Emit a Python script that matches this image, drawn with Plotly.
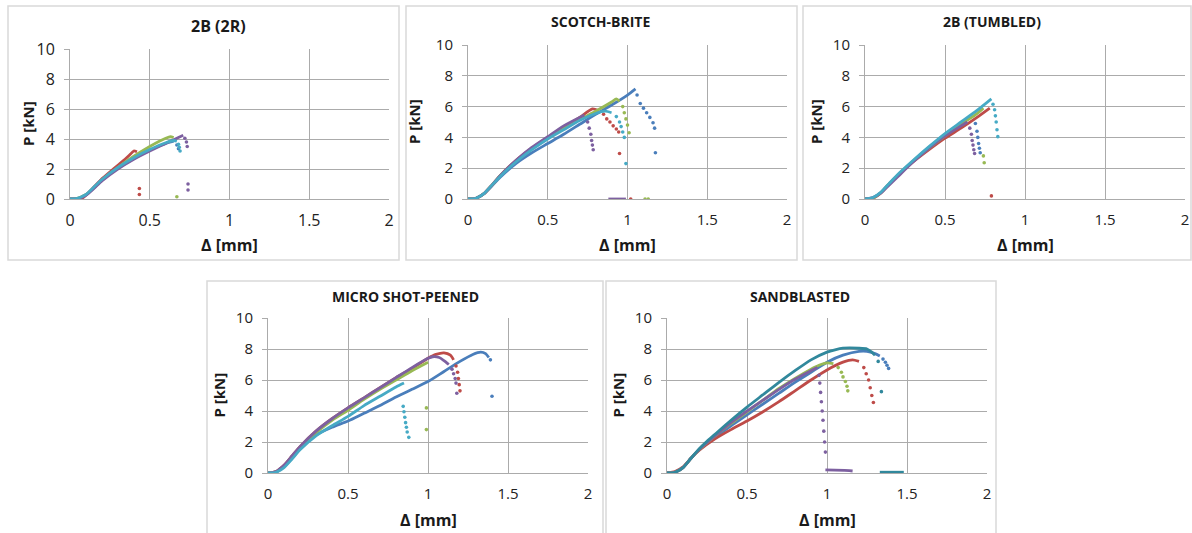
import plotly.graph_objects as go

W, H = 1192, 533

# ---------------- colours ----------------
BLUE = "#4A7EBB"
RED = "#BE4B48"
GREEN = "#98B954"
PURPLE = "#7D60A0"
CYAN = "#46AAC5"
TEAL = "#31889C"

PANEL_TITLES = ["2B (2R)", "SCOTCH-BRITE", "2B (TUMBLED)", "MICRO SHOT-PEENED", "SANDBLASTED"]
X_TICKS = [0, 0.5, 1, 1.5, 2]
X_TICK_TEXT = ["0", "0.5", "1", "1.5", "2"]
Y_TICKS = [0, 2, 4, 6, 8, 10]
Y_TICK_TEXT = ["0", "2", "4", "6", "8", "10"]

# ---------------- panel 1 : 2B (2R) ----------------
p1_blue_x = [0, 0.04, 0.08, 0.12, 0.16, 0.2, 0.3, 0.4, 0.5, 0.6, 0.65]
p1_blue_y = [0, 0.02, 0.12, 0.45, 0.85, 1.3, 2.05, 2.7, 3.25, 3.7, 3.85]
p1_blue_dx = [0.67, 0.68]
p1_blue_dy = [3.6, 3.35]
p1_red_x = [0, 0.05, 0.08, 0.11, 0.15, 0.2, 0.25, 0.3, 0.35, 0.38, 0.4, 0.42]
p1_red_y = [0, 0.0, 0.08, 0.35, 0.8, 1.35, 1.8, 2.25, 2.7, 3.0, 3.2, 3.15]
p1_red_dx = [0.435, 0.435]
p1_red_dy = [0.7, 0.3]
p1_green_x = [0, 0.04, 0.1, 0.15, 0.2, 0.3, 0.4, 0.5, 0.56, 0.6, 0.63, 0.65]
p1_green_y = [0, 0.03, 0.3, 0.75, 1.25, 2.1, 2.85, 3.5, 3.85, 4.05, 4.15, 4.1]
p1_green_dx = [0.67]
p1_green_dy = [0.15]
p1_purple_x = [0, 0.05, 0.1, 0.15, 0.2, 0.3, 0.4, 0.5, 0.6, 0.66, 0.71]
p1_purple_y = [0, 0.03, 0.25, 0.7, 1.2, 2.0, 2.65, 3.2, 3.7, 4.0, 4.25]
p1_purple_dx = [0.72, 0.73, 0.735, 0.74, 0.74]
p1_purple_dy = [4.05, 3.8, 3.5, 1.0, 0.6]
p1_cyan_x = [0, 0.04, 0.1, 0.15, 0.2, 0.3, 0.4, 0.5, 0.6, 0.65, 0.67]
p1_cyan_y = [0, 0.03, 0.3, 0.8, 1.3, 2.1, 2.75, 3.3, 3.75, 3.9, 3.85]
p1_cyan_dx = [0.68, 0.685, 0.69]
p1_cyan_dy = [3.65, 3.45, 3.2]

# ---------------- panel 2 : SCOTCH-BRITE ----------------
p2_blue_x = [0, 0.05, 0.1, 0.15, 0.2, 0.3, 0.4, 0.5, 0.6, 0.7, 0.8, 0.9, 1.0, 1.05]
p2_blue_y = [0, 0.05, 0.35, 0.85, 1.4, 2.3, 3.0, 3.6, 4.2, 4.85, 5.5, 6.1, 6.75, 7.15]
p2_blue_dx = [1.06, 1.08, 1.10, 1.12, 1.14, 1.16, 1.17, 1.175]
p2_blue_dy = [6.75, 6.2, 5.9, 5.6, 5.3, 4.95, 4.6, 3.0]
p2_red_x = [0, 0.05, 0.1, 0.15, 0.2, 0.3, 0.4, 0.5, 0.6, 0.7, 0.78, 0.82]
p2_red_y = [0, 0.05, 0.35, 0.9, 1.5, 2.5, 3.3, 4.0, 4.65, 5.3, 5.85, 5.75]
p2_red_dx = [0.85, 0.87, 0.89, 0.91, 0.93, 0.945, 0.95, 1.02]
p2_red_dy = [5.5, 5.2, 5.0, 4.75, 4.55, 4.35, 2.95, 0.0]
p2_green_x = [0, 0.05, 0.1, 0.15, 0.2, 0.3, 0.4, 0.5, 0.6, 0.7, 0.8, 0.9, 0.93, 0.95]
p2_green_y = [0, 0.05, 0.35, 0.9, 1.5, 2.45, 3.25, 3.95, 4.6, 5.15, 5.7, 6.3, 6.5, 6.35]
p2_green_dx = [0.97, 0.98, 0.99, 1.0, 1.01, 1.11, 1.13]
p2_green_dy = [6.0, 5.6, 5.2, 4.8, 4.3, 0.0, 0.0]
p2_purple_x = [0, 0.05, 0.1, 0.15, 0.2, 0.3, 0.4, 0.5, 0.6, 0.7, 0.73]
p2_purple_y = [0, 0.05, 0.35, 0.9, 1.5, 2.5, 3.35, 4.05, 4.75, 5.3, 5.45]
p2_purple_dx = [0.75, 0.76, 0.77, 0.775, 0.78, 0.785]
p2_purple_dy = [5.0, 4.6, 4.2, 3.8, 3.5, 3.2]
p2_purple_tx = [0.88, 0.99]
p2_purple_ty = [0.0, 0.0]
p2_cyan_x = [0, 0.05, 0.1, 0.15, 0.2, 0.3, 0.4, 0.5, 0.6, 0.7, 0.8, 0.86, 0.9]
p2_cyan_y = [0, 0.05, 0.35, 0.9, 1.45, 2.4, 3.2, 3.9, 4.5, 5.1, 5.55, 5.7, 5.6]
p2_cyan_dx = [0.93, 0.95, 0.96, 0.97, 0.98, 0.99]
p2_cyan_dy = [5.35, 5.0, 4.7, 4.35, 4.0, 2.3]

# ---------------- panel 3 : 2B (TUMBLED) ----------------
p3_blue_x = [0, 0.05, 0.1, 0.15, 0.2, 0.3, 0.4, 0.5, 0.6, 0.66]
p3_blue_y = [0, 0.08, 0.42, 0.98, 1.5, 2.45, 3.35, 4.2, 4.9, 5.3]
p3_blue_dx = [0.69, 0.70, 0.705, 0.71, 0.715, 0.72]
p3_blue_dy = [4.9, 4.4, 4.0, 3.6, 3.3, 3.0]
p3_red_x = [0, 0.05, 0.1, 0.15, 0.2, 0.3, 0.4, 0.5, 0.6, 0.7, 0.78]
p3_red_y = [0, 0.05, 0.4, 0.95, 1.5, 2.4, 3.2, 3.95, 4.6, 5.3, 5.9]
p3_red_dx = [0.79]
p3_red_dy = [0.2]
p3_green_x = [0, 0.05, 0.1, 0.15, 0.2, 0.3, 0.4, 0.5, 0.6, 0.7, 0.74]
p3_green_y = [0, 0.06, 0.42, 0.98, 1.5, 2.45, 3.3, 4.1, 4.85, 5.55, 5.9]
p3_green_dx = [0.74, 0.745]
p3_green_dy = [2.8, 2.35]
p3_purple_x = [0, 0.05, 0.1, 0.15, 0.2, 0.3, 0.4, 0.5, 0.6, 0.64]
p3_purple_y = [0, 0.1, 0.4, 0.9, 1.4, 2.4, 3.3, 4.1, 4.75, 5.0]
p3_purple_dx = [0.655, 0.665, 0.67, 0.675, 0.68, 0.685]
p3_purple_dy = [4.6, 4.2, 3.8, 3.5, 3.2, 2.95]
p3_cyan_x = [0, 0.05, 0.1, 0.15, 0.2, 0.3, 0.4, 0.5, 0.6, 0.7, 0.79]
p3_cyan_y = [0, 0.1, 0.45, 1.0, 1.55, 2.5, 3.4, 4.25, 5.0, 5.75, 6.5]
p3_cyan_dx = [0.80, 0.81, 0.815, 0.82, 0.825, 0.83]
p3_cyan_dy = [6.15, 5.8, 5.4, 5.0, 4.5, 4.05]

# ---------------- panel 4 : MICRO SHOT-PEENED ----------------
p4_blue_x = [0, 0.05, 0.1, 0.15, 0.2, 0.3, 0.4, 0.5, 0.6, 0.7, 0.8, 0.9, 1.0, 1.1, 1.2, 1.28, 1.33, 1.36, 1.38]
p4_blue_y = [0, 0.05, 0.4, 0.95, 1.55, 2.45, 2.95, 3.35, 3.85, 4.35, 4.9, 5.4, 5.9, 6.55, 7.2, 7.65, 7.8, 7.7, 7.45]
p4_blue_dx = [1.39, 1.40]
p4_blue_dy = [7.3, 4.95]
p4_red_x = [0, 0.05, 0.1, 0.15, 0.2, 0.3, 0.4, 0.5, 0.6, 0.7, 0.8, 0.9, 1.0, 1.05, 1.1, 1.14, 1.16]
p4_red_y = [0, 0.1, 0.5, 1.1, 1.7, 2.7, 3.5, 4.2, 4.85, 5.5, 6.15, 6.75, 7.4, 7.65, 7.75, 7.6, 7.3]
p4_red_dx = [1.175, 1.185, 1.19, 1.195, 1.2]
p4_red_dy = [6.9, 6.5, 6.1, 5.7, 5.3]
p4_green_x = [0, 0.05, 0.1, 0.15, 0.2, 0.3, 0.4, 0.5, 0.6, 0.7, 0.8, 0.9, 1.0]
p4_green_y = [0, 0.08, 0.45, 1.05, 1.65, 2.6, 3.4, 4.05, 4.75, 5.4, 6.0, 6.6, 7.15]
p4_green_dx = [0.99, 0.99]
p4_green_dy = [4.2, 2.8]
p4_purple_x = [0, 0.05, 0.1, 0.15, 0.2, 0.3, 0.4, 0.5, 0.6, 0.7, 0.8, 0.9, 1.0, 1.03, 1.07, 1.1, 1.13]
p4_purple_y = [0, 0.1, 0.5, 1.1, 1.7, 2.7, 3.5, 4.2, 4.85, 5.5, 6.15, 6.8, 7.4, 7.5, 7.45, 7.25, 7.0]
p4_purple_dx = [1.15, 1.16, 1.17, 1.175, 1.18]
p4_purple_dy = [6.7, 6.4, 6.1, 5.8, 5.15]
p4_cyan_x = [0, 0.05, 0.1, 0.15, 0.2, 0.3, 0.4, 0.5, 0.6, 0.7, 0.8, 0.85]
p4_cyan_y = [0, 0.05, 0.35, 0.9, 1.5, 2.4, 3.05, 3.65, 4.35, 4.95, 5.55, 5.8]
p4_cyan_dx = [0.845, 0.85, 0.855, 0.86, 0.865, 0.87, 0.88]
p4_cyan_dy = [4.3, 3.95, 3.6, 3.25, 2.95, 2.65, 2.3]

# ---------------- panel 5 : SANDBLASTED ----------------
p5_blue_x = [0, 0.05, 0.1, 0.15, 0.2, 0.3, 0.4, 0.5, 0.6, 0.7, 0.8, 0.9, 1.0, 1.1, 1.2, 1.25, 1.3, 1.33]
p5_blue_y = [0, 0.05, 0.35, 0.95, 1.5, 2.3, 3.05, 3.75, 4.45, 5.15, 5.85, 6.5, 7.15, 7.6, 7.85, 7.85, 7.7, 7.55]
p5_blue_dx = [1.35, 1.365, 1.375, 1.385]
p5_blue_dy = [7.35, 7.15, 6.95, 6.75]
p5_red_x = [0, 0.05, 0.1, 0.15, 0.2, 0.3, 0.4, 0.5, 0.6, 0.7, 0.8, 0.9, 1.0, 1.1, 1.16, 1.2]
p5_red_y = [0, 0.1, 0.4, 0.95, 1.45, 2.2, 2.8, 3.35, 3.95, 4.6, 5.3, 6.0, 6.65, 7.15, 7.3, 7.2]
p5_red_dx = [1.23, 1.245, 1.26, 1.27, 1.28, 1.29]
p5_red_dy = [6.8, 6.4, 6.0, 5.5, 5.0, 4.55]
p5_green_x = [0, 0.05, 0.1, 0.15, 0.2, 0.3, 0.4, 0.5, 0.6, 0.7, 0.8, 0.9, 0.95, 1.0, 1.04]
p5_green_y = [0, 0.05, 0.35, 0.95, 1.5, 2.4, 3.2, 3.95, 4.7, 5.45, 6.1, 6.7, 6.95, 7.1, 7.05]
p5_green_dx = [1.07, 1.09, 1.10, 1.115, 1.125, 1.13]
p5_green_dy = [6.8, 6.5, 6.2, 5.9, 5.6, 5.3]
p5_purple_x = [0, 0.05, 0.1, 0.15, 0.2, 0.3, 0.4, 0.5, 0.6, 0.7, 0.8, 0.9, 0.94]
p5_purple_y = [0, 0.05, 0.35, 0.95, 1.5, 2.4, 3.25, 4.0, 4.7, 5.4, 6.05, 6.6, 6.8]
p5_purple_dx = [0.95, 0.955, 0.96, 0.965, 0.97, 0.975, 0.98, 0.985, 0.99]
p5_purple_dy = [6.3, 5.8, 5.2, 4.6, 4.0, 3.4, 2.7, 2.0, 1.35]
p5_purple_tx = [0.99, 1.02, 1.05, 1.08, 1.11, 1.14, 1.16]
p5_purple_ty = [0.2, 0.2, 0.2, 0.18, 0.17, 0.15, 0.13]
p5_teal_x = [0, 0.05, 0.1, 0.15, 0.2, 0.25, 0.3, 0.4, 0.5, 0.6, 0.7, 0.8, 0.9, 1.0, 1.05, 1.1, 1.2, 1.25, 1.28, 1.3]
p5_teal_y = [0, 0.05, 0.35, 0.95, 1.55, 2.05, 2.5, 3.4, 4.25, 5.05, 5.85, 6.6, 7.3, 7.8, 7.95, 8.05, 8.05, 8.0, 7.8, 7.6]
p5_teal_dx = [1.32, 1.34]
p5_teal_dy = [7.2, 5.25]
p5_teal_tx = [1.33, 1.48]
p5_teal_ty = [0.05, 0.05]

PANELS = [
    [(BLUE, p1_blue_x, p1_blue_y, p1_blue_dx, p1_blue_dy, None, None),
     (RED, p1_red_x, p1_red_y, p1_red_dx, p1_red_dy, None, None),
     (GREEN, p1_green_x, p1_green_y, p1_green_dx, p1_green_dy, None, None),
     (PURPLE, p1_purple_x, p1_purple_y, p1_purple_dx, p1_purple_dy, None, None),
     (CYAN, p1_cyan_x, p1_cyan_y, p1_cyan_dx, p1_cyan_dy, None, None)],
    [(BLUE, p2_blue_x, p2_blue_y, p2_blue_dx, p2_blue_dy, None, None),
     (RED, p2_red_x, p2_red_y, p2_red_dx, p2_red_dy, None, None),
     (GREEN, p2_green_x, p2_green_y, p2_green_dx, p2_green_dy, None, None),
     (PURPLE, p2_purple_x, p2_purple_y, p2_purple_dx, p2_purple_dy, p2_purple_tx, p2_purple_ty),
     (CYAN, p2_cyan_x, p2_cyan_y, p2_cyan_dx, p2_cyan_dy, None, None)],
    [(BLUE, p3_blue_x, p3_blue_y, p3_blue_dx, p3_blue_dy, None, None),
     (RED, p3_red_x, p3_red_y, p3_red_dx, p3_red_dy, None, None),
     (GREEN, p3_green_x, p3_green_y, p3_green_dx, p3_green_dy, None, None),
     (PURPLE, p3_purple_x, p3_purple_y, p3_purple_dx, p3_purple_dy, None, None),
     (CYAN, p3_cyan_x, p3_cyan_y, p3_cyan_dx, p3_cyan_dy, None, None)],
    [(BLUE, p4_blue_x, p4_blue_y, p4_blue_dx, p4_blue_dy, None, None),
     (RED, p4_red_x, p4_red_y, p4_red_dx, p4_red_dy, None, None),
     (GREEN, p4_green_x, p4_green_y, p4_green_dx, p4_green_dy, None, None),
     (PURPLE, p4_purple_x, p4_purple_y, p4_purple_dx, p4_purple_dy, None, None),
     (CYAN, p4_cyan_x, p4_cyan_y, p4_cyan_dx, p4_cyan_dy, None, None)],
    [(BLUE, p5_blue_x, p5_blue_y, p5_blue_dx, p5_blue_dy, None, None),
     (RED, p5_red_x, p5_red_y, p5_red_dx, p5_red_dy, None, None),
     (GREEN, p5_green_x, p5_green_y, p5_green_dx, p5_green_dy, None, None),
     (PURPLE, p5_purple_x, p5_purple_y, p5_purple_dx, p5_purple_dy, p5_purple_tx, p5_purple_ty),
     (TEAL, p5_teal_x, p5_teal_y, p5_teal_dx, p5_teal_dy, p5_teal_tx, p5_teal_ty)],
]

# ---------------- layout geometry (pixels) ----------------
AREAS = [(70, 389, 49, 199), (468, 787, 45, 199), (865, 1185, 45, 199),
         (268, 588, 318, 473), (667, 987, 318, 473)]
FRAMES = [(8, 399, 6, 260), (406, 797, 6, 260), (803, 1191, 6, 260),
          (207, 603, 281, 540), (606, 996, 281, 540)]
TITLE_POS = [(218, 26), (600, 21), (992, 21), (405, 296), (800, 296)]
YTITLE_X = [28, 414, 816, 218, 617]
XTITLE_Y = [245, 245, 245, 520, 520]

FONT = "Open Sans, sans-serif"
GRID = "#ABABAB"
TXT = "#222222"

def px(x):
    return x / W

def py(y):
    return 1 - y / H

fig = go.Figure()
layout = dict(width=W, height=H, margin=dict(l=0, r=0, t=0, b=0, autoexpand=False),
              template="none",
              paper_bgcolor="white", plot_bgcolor="white", showlegend=False,
              font=dict(family=FONT, color=TXT))
annotations = []
shapes = []

for i, (area, series) in enumerate(zip(AREAS, PANELS)):
    n = "" if i == 0 else str(i + 1)
    xa, ya = "x" + n, "y" + n
    big = (i == 0)
    tick_size = 16 if big else 15
    for color, cx, cy, dx, dy, tx, ty in series:
        fig.add_trace(go.Scatter(x=cx, y=cy, mode="lines", xaxis=xa, yaxis=ya,
                                 line=dict(color=color, width=2.8, shape="spline", smoothing=0.6),
                                 hoverinfo="skip"))
        if tx is not None:
            fig.add_trace(go.Scatter(x=tx, y=ty, mode="lines", xaxis=xa, yaxis=ya,
                                     line=dict(color=color, width=2.8), hoverinfo="skip"))
        fig.add_trace(go.Scatter(x=dx, y=dy, mode="markers", xaxis=xa, yaxis=ya,
                                 marker=dict(color=color, size=3.6, line=dict(width=0)),
                                 hoverinfo="skip"))
    x0, x1, yt, yb = area
    layout["xaxis" + n] = dict(domain=[px(x0), px(x1)], range=[0, 2], anchor=ya,
                               tickvals=X_TICKS, ticktext=X_TICK_TEXT, automargin=False,
                               showgrid=True, gridcolor=GRID, gridwidth=1,
                               zeroline=False, showline=True, linecolor=GRID, linewidth=1,
                               ticks="", ticklabelstandoff=7,
                               tickfont=dict(size=tick_size, family=FONT, color=TXT),
                               fixedrange=True)
    layout["yaxis" + n] = dict(domain=[py(yb), py(yt)], range=[0, 10], anchor=xa,
                               tickvals=Y_TICKS, ticktext=Y_TICK_TEXT, automargin=False,
                               showgrid=True, gridcolor=GRID, gridwidth=1,
                               zeroline=False, showline=True, linecolor=GRID, linewidth=1,
                               ticks="outside", ticklen=5, tickcolor=GRID,
                               ticklabelstandoff=6,
                               tickfont=dict(size=tick_size, family=FONT, color=TXT),
                               fixedrange=True)
    fx0, fx1, fy0, fy1 = FRAMES[i]
    shapes.append(dict(type="rect", xref="paper", yref="paper",
                       x0=px(fx0), x1=px(fx1), y0=py(fy1), y1=py(fy0),
                       line=dict(color="#D9D9D9", width=1.5), layer="below"))
    tx_, ty_ = TITLE_POS[i]
    annotations.append(dict(text="<b>%s</b>" % PANEL_TITLES[i], xref="paper", yref="paper",
                            x=px(tx_), y=py(ty_), xanchor="center", yanchor="middle",
                            showarrow=False,
                            font=dict(size=16 if big else 14, family=FONT, color="#1A1A1A")))
    annotations.append(dict(text="<b>P [kN]</b>", xref="paper", yref="paper",
                            x=px(YTITLE_X[i]), y=py((yt + yb) / 2), textangle=-90,
                            xanchor="center", yanchor="middle", showarrow=False,
                            font=dict(size=15, family=FONT, color="#1A1A1A")))
    annotations.append(dict(text="<b>Δ [mm]</b>", xref="paper", yref="paper",
                            x=px((x0 + x1) / 2), y=py(XTITLE_Y[i]),
                            xanchor="center", yanchor="middle", showarrow=False,
                            font=dict(size=16, family=FONT, color="#1A1A1A")))

layout["annotations"] = annotations
layout["shapes"] = shapes
fig.update_layout(**layout)
fig.write_html("out.html")
